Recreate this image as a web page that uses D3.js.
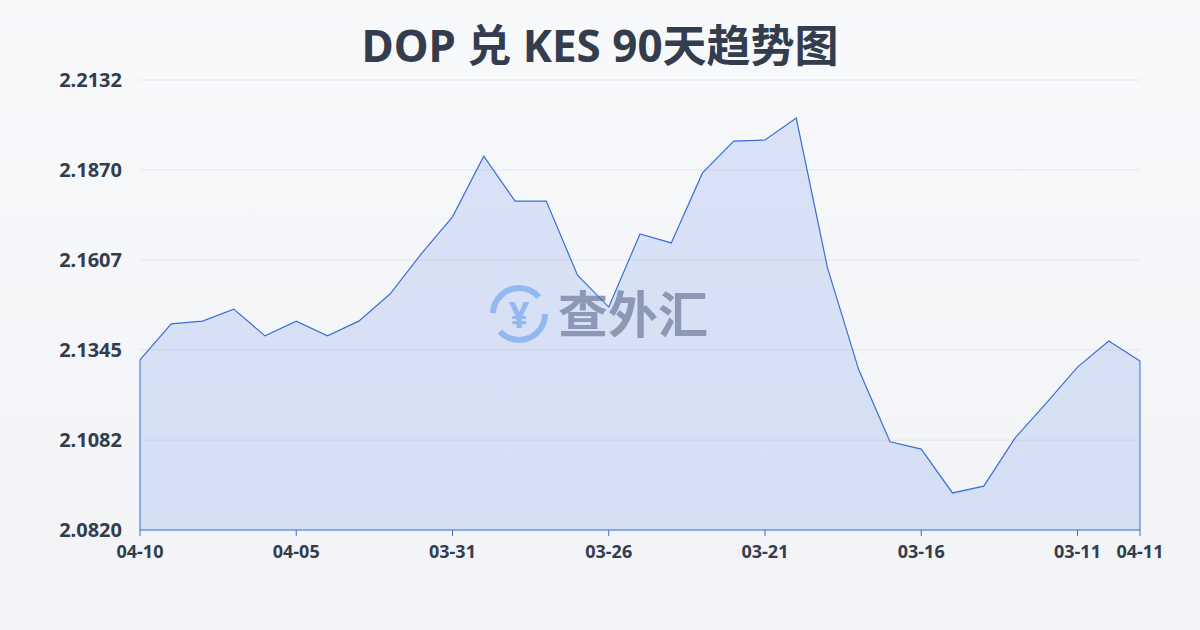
<!DOCTYPE html>
<html><head><meta charset="utf-8">
<script src="https://cdn.jsdelivr.net/npm/d3@7"></script>
<style>body{margin:0;}svg{display:block;font-family:"Noto Sans","Noto Sans CJK SC",sans-serif;}</style>
</head><body><svg id="c" width="1200" height="630"></svg>
<script>
const dates=["04-10","04-09","04-08","04-07","04-06","04-05","04-04","04-03","04-02","04-01","03-31","03-30","03-29","03-28","03-27","03-26","03-25","03-24","03-23","03-22","03-21","03-20","03-19","03-18","03-17","03-16","03-15","03-14","03-13","03-12","03-11","03-10","04-11"];
const values=[2.1316,2.1421,2.1429,2.1464,2.1386,2.1429,2.1386,2.1429,2.1508,2.1625,2.1733,2.1910,2.1779,2.1779,2.1563,2.1470,2.1683,2.1657,2.1861,2.1954,2.1957,2.2021,2.1584,2.1287,2.1077,2.1056,2.0928,2.0948,2.1088,2.1190,2.1295,2.1371,2.1313];
const yTicks=[2.0820,2.1082,2.1345,2.1607,2.1870,2.2132];
const xLabelIdx=[0,5,10,15,20,25,30,32];
const title="DOP 兑 KES 90天趋势图";

const svg=d3.select("#c");
const defs=svg.append("defs");
const bg=defs.append("linearGradient").attr("id","bg").attr("x1",0).attr("y1",0).attr("x2",0).attr("y2",1);
bg.append("stop").attr("offset",0).attr("stop-color","#f8f9fb");
bg.append("stop").attr("offset",1).attr("stop-color","#f1f3f6");
svg.append("rect").attr("width",1200).attr("height",630).attr("fill","url(#bg)");

const x=d3.scaleLinear().domain([0,dates.length-1]).range([140,1140]);
const y=d3.scaleLinear().domain([2.0820,2.2132]).range([530,80]);

svg.append("text").attr("x",600).attr("y",62).attr("text-anchor","middle").attr("font-size",44).attr("font-weight","bold").attr("fill","#333d4e").text(title);

svg.append("g").selectAll("line").data(yTicks).join("line")
 .attr("x1",140).attr("x2",1140).attr("y1",d=>y(d)).attr("y2",d=>y(d)).attr("stroke","#e3e6ea");
svg.append("g").selectAll("text").data(yTicks).join("text")
 .attr("x",122).attr("y",d=>y(d)+7).attr("text-anchor","end").attr("font-size",20).attr("font-weight","bold").attr("fill","#333d4e").text(d=>d.toFixed(4));

// watermark
const wm=svg.append("g").attr("opacity",0.55);
wm.append("circle").attr("cx",519).attr("cy",314).attr("r",26).attr("fill","none").attr("stroke","#5b9bf0").attr("stroke-width",6).attr("stroke-dasharray","62 20");
wm.append("text").attr("x",519).attr("y",328).attr("text-anchor","middle").attr("font-size",36).attr("font-weight","bold").attr("fill","#5b9bf0").text("¥");
wm.append("text").attr("x",558).attr("y",333).attr("font-size",50).attr("font-weight","bold").attr("fill","#4a5568").text("查外汇");

const area=d3.area().x((d,i)=>x(i)).y0(530).y1(d=>y(d));
const line=d3.line().x((d,i)=>x(i)).y(d=>y(d));
svg.append("path").datum(values).attr("d",area).attr("fill","rgba(100,140,230,0.2)");
svg.append("path").datum(values).attr("d",line).attr("fill","none").attr("stroke","#3b6fd6").attr("stroke-width",1.2);
svg.append("line").attr("x1",140).attr("x2",140).attr("y1",y(values[0])).attr("y2",530).attr("stroke","#3b6fd6");
svg.append("line").attr("x1",1140).attr("x2",1140).attr("y1",y(values[values.length-1])).attr("y2",530).attr("stroke","#3b6fd6");
svg.append("line").attr("x1",140).attr("x2",1140).attr("y1",530).attr("y2",530).attr("stroke","#3b6fd6");

const xa=svg.append("g");
xLabelIdx.forEach(i=>{
 xa.append("line").attr("x1",x(i)).attr("x2",x(i)).attr("y1",530).attr("y2",536).attr("stroke","#3b6fd6");
 xa.append("text").attr("x",x(i)).attr("y",558).attr("text-anchor","middle").attr("font-size",18).attr("font-weight","bold").attr("fill","#333d4e").text(dates[i]);
});
</script></body></html>
